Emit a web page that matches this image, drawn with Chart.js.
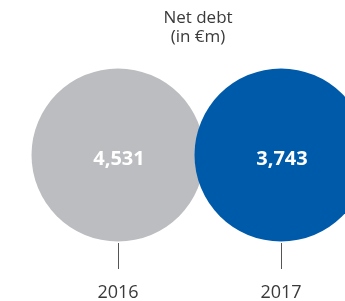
<!DOCTYPE html>
<html>
<head>
<meta charset="utf-8">
<script src="https://cdn.jsdelivr.net/npm/chart.js@4/dist/chart.umd.min.js"></script>
<style>
  html, body { margin: 0; padding: 0; background: #ffffff; }
  #wrap { position: relative; width: 345px; height: 301px; overflow: hidden; }
  #title { position: absolute; left: 98px; width: 200px; top: 8px; text-align: center;
           font-family: "Open Sans", sans-serif; font-size: 17px; line-height: 18.5px; color: #3a3a3a; }
  canvas { position: absolute; left: 0; top: 0; }
</style>
</head>
<body>
<div id="wrap">
  <canvas id="c" width="345" height="301"></canvas>
  <div id="title">Net debt<br>(in €m)</div>
</div>
<script>
const years = [2016, 2017];
const netDebt = [4531, 3743];
const valueLabels = ['4,531', '3,743'];
const colors = ['#bcbdc0', '#005aaa'];

const valueLabelPlugin = {
  id: 'valueLabels',
  afterDatasetsDraw(chart) {
    const ctx = chart.ctx;
    const meta = chart.getDatasetMeta(0);
    ctx.save();
    ctx.fillStyle = '#ffffff';
    ctx.font = 'bold 20px "Open Sans", sans-serif';
    ctx.textAlign = 'center';
    ctx.textBaseline = 'middle';
    meta.data.forEach((el, i) => {
      ctx.fillText(valueLabels[i], el.x + 1, el.y + 4);
    });
    ctx.restore();
  }
};

new Chart(document.getElementById('c'), {
  type: 'bubble',
  data: {
    datasets: [{
      data: years.map((y, i) => ({ x: y, y: 0, v: netDebt[i] })),
      backgroundColor: colors,
      hoverBackgroundColor: colors,
      borderWidth: 0,
      hoverBorderWidth: 0,
      radius: 86.5,
      hoverRadius: 0,
      clip: false
    }]
  },
  options: {
    responsive: false,
    animation: false,
    events: [],
    layout: { autoPadding: false, padding: { top: 67, left: 0, right: 0, bottom: 0 } },
    plugins: { legend: { display: false }, tooltip: { enabled: false }, title: { display: false } },
    scales: {
      x: {
        type: 'linear',
        min: 2015.27607,
        max: 2017.39263,
        afterBuildTicks: (s) => { s.ticks = years.map(v => ({ value: v })); },
        afterFit: (s) => { s.height = 58; },
        border: { display: false },
        grid: { drawOnChartArea: false, drawTicks: true, tickLength: 26, color: '#555555', lineWidth: 1 },
        ticks: {
          padding: 13,
          color: '#3a3a3a',
          font: { family: '"Open Sans", sans-serif', size: 18 },
          callback: (v) => String(v),
          maxRotation: 0,
          autoSkip: false
        }
      },
      y: { display: false, min: -1, max: 1 }
    }
  },
  plugins: [valueLabelPlugin]
});
</script>
</body>
</html>
